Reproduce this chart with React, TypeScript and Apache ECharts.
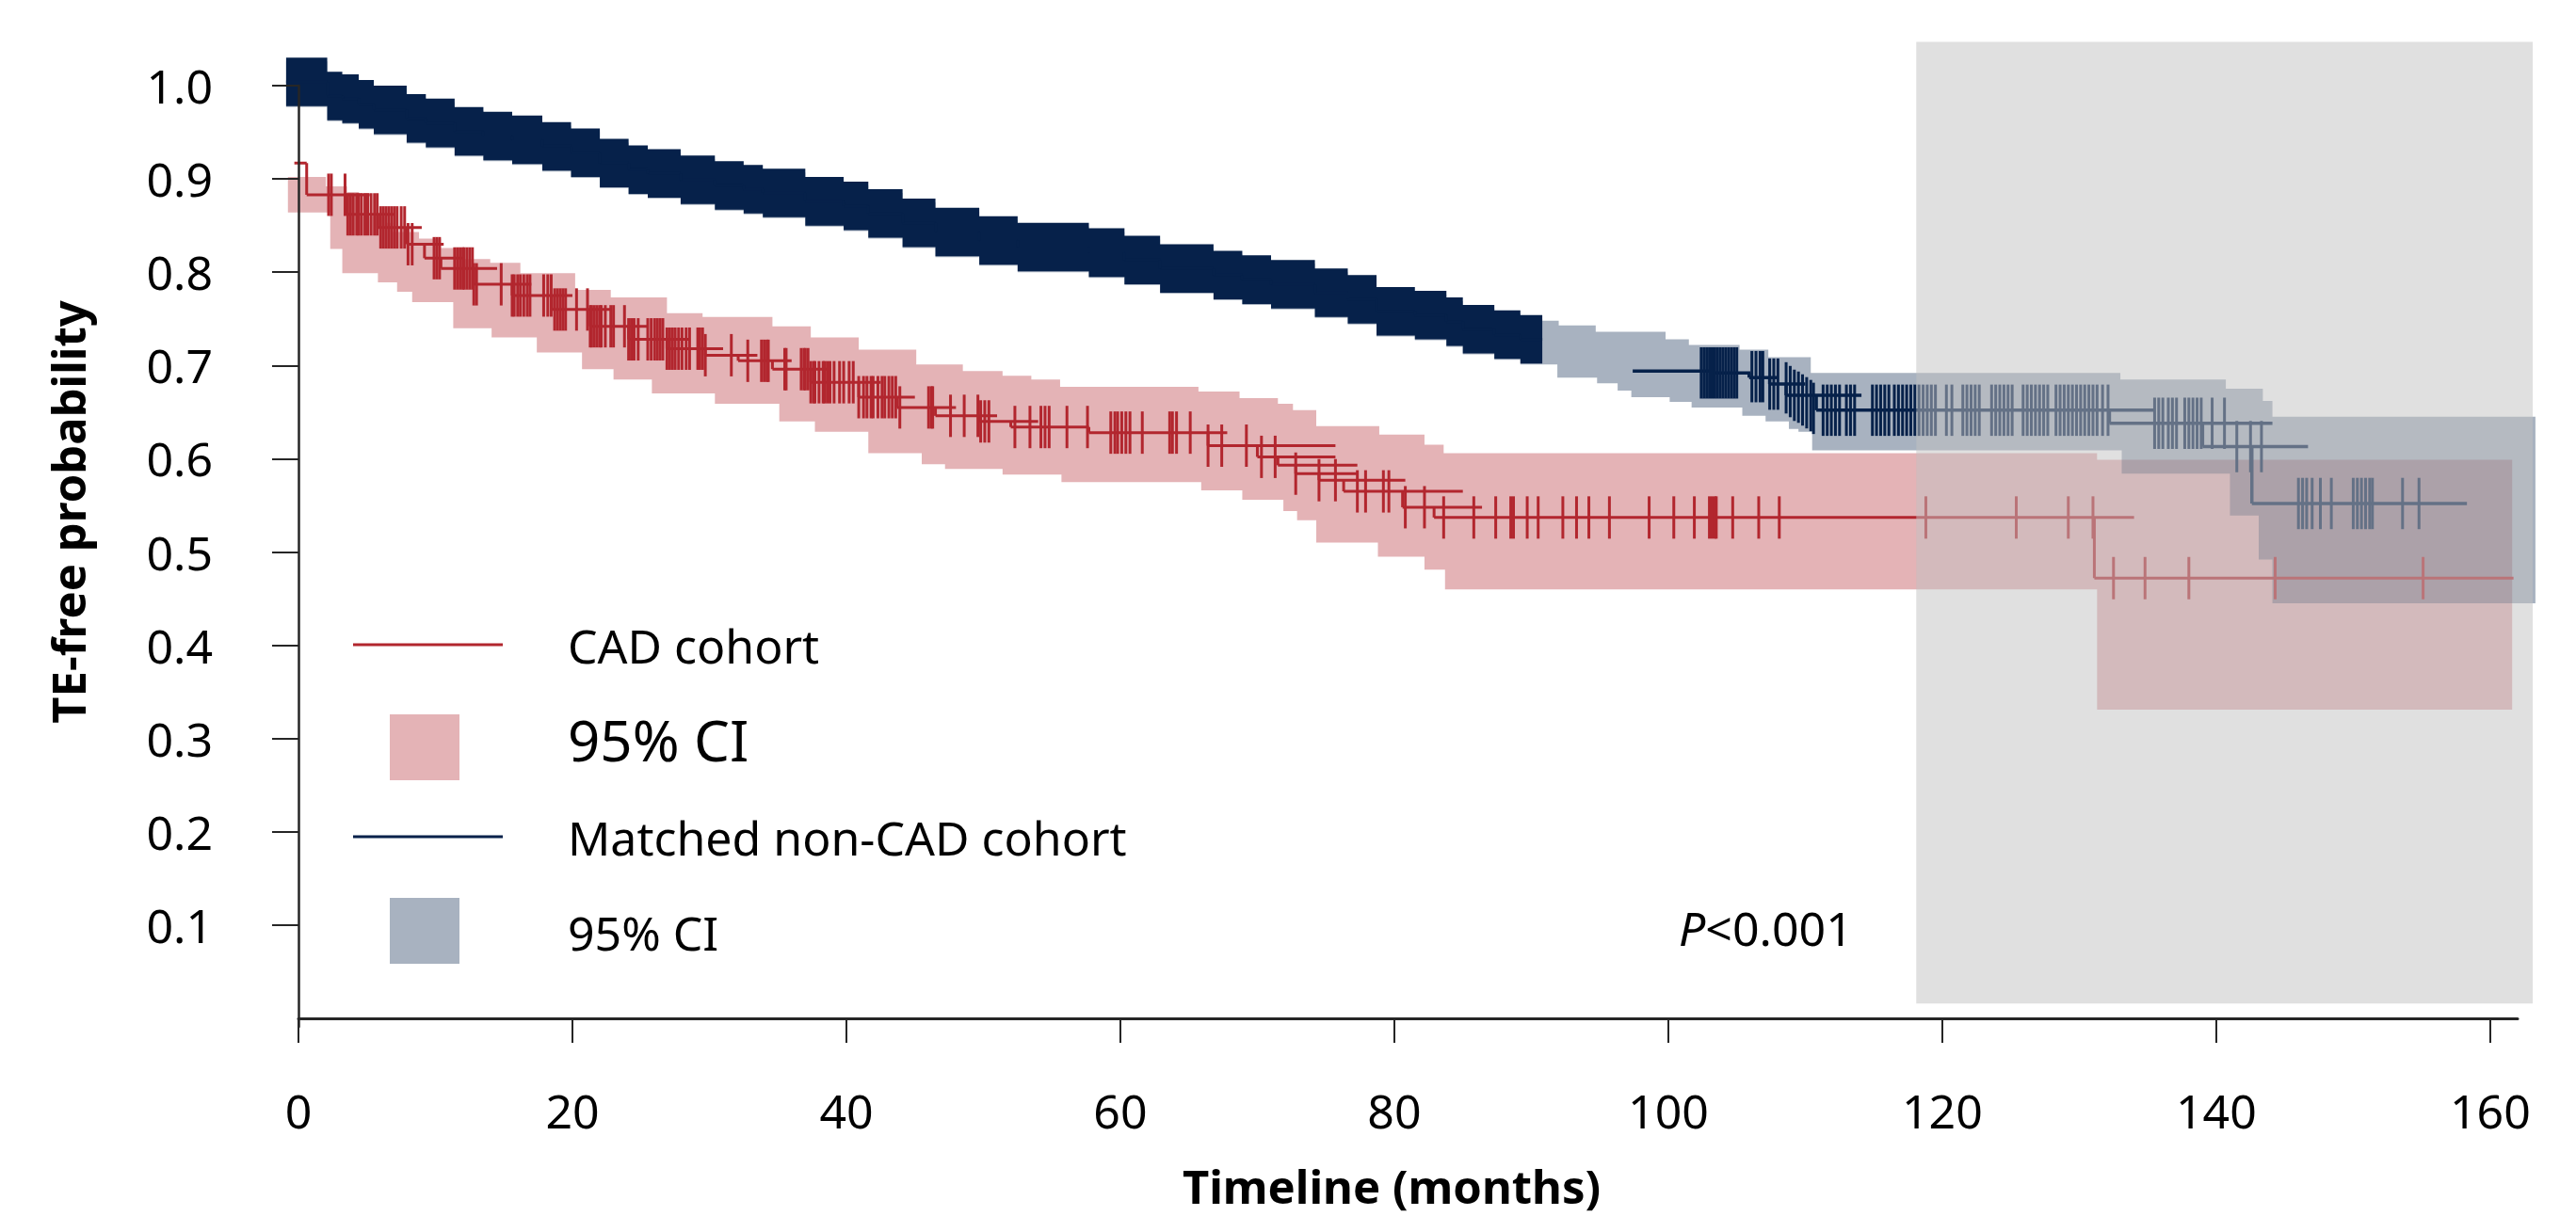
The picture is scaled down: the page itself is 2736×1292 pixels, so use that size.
import React, { useEffect, useRef } from "react";
import * as echarts from "echarts";

const FONT = '"Noto Sans", "Open Sans", sans-serif';
const RED = "#b2262e";
const NAVY = "#06214a";
const RED_CI = "rgba(178,38,46,0.35)";
const NAVY_CI = "rgba(6,33,74,0.35)";
const SHADE = "rgba(193,193,193,0.5)";

const xTicks = [0, 20, 40, 60, 80, 100, 120, 140, 160];
const yTicks = [0.1, 0.2, 0.3, 0.4, 0.5, 0.6, 0.7, 0.8, 0.9, 1.0];

// ---------- CAD cohort ----------
// [start month, end month, TE-free probability]
const cadSegments: number[][] = [
  [-0.3, 0.6, 0.917], [0.6, 5.2, 0.883], [3.5, 7.0, 0.862], [5.8, 9.0, 0.848],
  [7.9, 10.6, 0.83], [9.2, 12.0, 0.815], [10.4, 14.5, 0.804], [12.8, 17.0, 0.787],
  [15.6, 20.0, 0.775], [18.5, 22.8, 0.76], [21.3, 25.5, 0.742], [24.1, 28.5, 0.728],
  [26.9, 31.0, 0.718], [29.7, 33.5, 0.711], [32.1, 36.0, 0.705], [34.6, 38.8, 0.696],
  [37.4, 42.5, 0.682], [40.9, 45.0, 0.666], [43.7, 48.0, 0.655], [46.5, 51.0, 0.646],
  [49.7, 54.0, 0.64], [52.0, 57.7, 0.634], [57.7, 67.8, 0.628], [66.4, 75.7, 0.614],
  [70.0, 75.7, 0.602], [71.5, 77.3, 0.593], [72.8, 77.3, 0.584], [74.5, 80.8, 0.577],
  [76.3, 85.0, 0.565], [80.6, 86.4, 0.548], [82.9, 134.0, 0.537], [131.1, 161.7, 0.472],
];
const cadCensorTimes = [
  2.2, 2.4, 3.4, 3.6, 3.8, 4.0, 4.25, 4.4, 4.6, 4.85, 5.05, 5.3, 5.55, 5.75, 6.0, 6.2, 6.4, 6.6,
  6.8, 7.0, 7.2, 7.5, 7.75, 8.0, 8.3, 9.9, 10.1, 10.3, 11.4, 11.6, 11.8, 12.0, 12.1, 12.3, 12.5,
  12.7, 12.8, 13.0, 14.8, 15.6, 15.75, 16.0, 16.2, 16.45, 16.7, 16.9, 17.9, 18.2, 18.45, 18.7,
  18.9, 19.1, 19.3, 19.5, 20.3, 21.1, 21.3, 21.4, 21.6, 21.8, 22.0, 22.1, 22.4, 22.8, 23.0, 23.8,
  24.1, 24.3, 24.5, 24.8, 25.5, 25.75, 26.0, 26.2, 26.4, 26.6, 26.9, 27.1, 27.3, 27.5, 27.75,
  28.0, 28.3, 28.55, 29.15, 29.3, 29.5, 29.7, 31.6, 32.8, 33.8, 34.0, 34.2, 34.3, 35.5, 35.6,
  36.7, 36.9, 37.0, 37.2, 37.4, 37.6, 37.7, 38.0, 38.3, 38.4, 38.6, 38.8, 39.1, 39.5, 39.8, 40.2,
  40.5, 40.9, 41.25, 41.5, 41.8, 41.95, 42.3, 42.6, 42.8, 43.1, 43.35, 43.6, 43.9, 46.0, 46.2,
  46.3, 47.6, 48.6, 49.6, 49.8, 50.1, 50.4, 52.3, 53.4, 54.2, 54.5, 54.8, 56.1, 57.6, 59.3, 59.6,
  59.8, 60.1, 60.4, 60.7, 61.6, 63.6, 63.8, 64.1, 65.1, 66.4, 67.4, 69.2, 70.3, 71.3, 72.8, 74.5,
  75.7, 77.3, 77.9, 79.2, 79.6, 80.8, 82.2, 83.6, 85.8, 87.4, 88.5, 88.7, 89.7, 90.5, 92.3, 93.3,
  94.2, 95.7, 98.6, 100.4, 101.9, 103.0, 103.2, 103.4, 103.5, 104.7, 106.6, 108.1, 118.8, 125.4,
  129.2, 131.0, 132.5, 134.8, 138.0, 144.3, 155.1,
];
// [start month, bound]
const cadCiUpper: number[][] = [
  [-0.77, 0.902], [2.0, 0.892], [3.55, 0.886], [4.42, 0.86], [6.35, 0.853], [6.88, 0.843],
  [8.8, 0.836], [10.4, 0.826], [11.96, 0.814], [14.0, 0.81], [16.2, 0.799], [20.2, 0.781],
  [22.8, 0.773], [26.9, 0.756], [29.5, 0.752], [34.6, 0.742], [37.4, 0.73], [40.9, 0.717],
  [45.1, 0.701], [48.5, 0.694], [51.4, 0.689], [53.5, 0.685], [55.6, 0.677], [65.7, 0.672],
  [68.7, 0.665], [71.5, 0.659], [72.6, 0.652], [74.3, 0.635], [78.9, 0.626], [82.2, 0.615],
  [83.6, 0.606], [131.3, 0.599],
];
const cadCiLower: number[][] = [
  [-0.77, 0.864], [2.32, 0.825], [3.2, 0.799], [5.8, 0.789], [7.2, 0.779], [8.3, 0.768],
  [11.3, 0.74], [14.1, 0.73], [17.4, 0.714], [20.7, 0.696], [23.0, 0.685], [25.8, 0.67],
  [30.4, 0.659], [35.1, 0.64], [37.7, 0.629], [41.6, 0.606], [45.5, 0.594], [47.2, 0.589],
  [51.4, 0.583], [55.7, 0.575], [65.9, 0.566], [68.9, 0.556], [71.9, 0.544], [72.9, 0.534],
  [74.3, 0.51], [78.8, 0.495], [82.2, 0.481], [83.7, 0.46], [131.3, 0.331],
];
const cadCiEnd = 161.6;

// ---------- Matched non-CAD cohort ----------
// survival steps in the densely censored period [start month, probability]
const nonCadDenseCurve: number[][] = [
  [-0.9, 1.004], [2.1, 0.989], [3.2, 0.986], [4.4, 0.98], [5.5, 0.974], [7.9, 0.965],
  [9.3, 0.96], [11.4, 0.951], [13.5, 0.946], [15.6, 0.942], [17.8, 0.935], [19.9, 0.928],
  [22.0, 0.917], [24.1, 0.91], [25.5, 0.906], [27.9, 0.899], [30.4, 0.893], [32.5, 0.889],
  [33.9, 0.885], [37.0, 0.876], [39.8, 0.871], [41.6, 0.863], [44.1, 0.853], [46.5, 0.843],
  [49.7, 0.834], [52.5, 0.827], [57.7, 0.821], [60.3, 0.813], [62.9, 0.804], [66.8, 0.797],
  [68.9, 0.792], [71.0, 0.787], [74.2, 0.778], [76.6, 0.771], [78.7, 0.758], [81.5, 0.754],
  [83.8, 0.747], [85.0, 0.739], [87.3, 0.733], [89.2, 0.728],
];
const nonCadDenseEnd = 90.8;
const nonCadSegments: number[][] = [
  [97.4, 103.2, 0.694], [103.2, 106.0, 0.692], [105.9, 108.0, 0.687], [107.4, 110.0, 0.68],
  [108.6, 114.1, 0.668], [110.8, 135.5, 0.652], [132.2, 144.1, 0.638], [139.0, 146.7, 0.613],
  [142.6, 158.3, 0.552],
];
// [probability level, censoring months]
const nonCadCensor: [number, number[]][] = [
  [0.692, [102.4, 102.6, 102.8, 103.0, 103.2, 103.4, 103.6, 103.8, 104.0, 104.2, 104.4, 104.6, 104.8, 105.0]],
  [0.688, [106.1, 106.4, 106.7, 106.9]],
  [0.68, [107.4, 107.7, 108.0]],
  [0.676, [108.6]], [0.672, [108.9]], [0.668, [109.2]], [0.666, [109.5]], [0.663, [109.8]],
  [0.66, [110.1]], [0.657, [110.4]], [0.654, [110.6]],
  [0.652, [111.3, 111.6, 111.9, 112.2, 112.5, 113.0, 113.3, 113.6, 114.9, 115.2, 115.5, 115.8,
    116.1, 116.5, 116.8, 117.1, 117.4, 117.7, 118.0, 118.3, 118.6, 118.9, 119.2, 119.5, 120.3,
    120.7, 121.5, 121.8, 122.1, 122.4, 122.7, 123.6, 123.9, 124.2, 124.5, 124.8, 125.1, 125.9,
    126.2, 126.5, 126.8, 127.1, 127.4, 127.7, 128.3, 128.6, 128.9, 129.2, 129.5, 129.8, 130.1,
    130.4, 130.7, 131.0, 131.3, 131.7, 132.1]],
  [0.638, [135.5, 135.8, 136.1, 136.5, 136.8, 137.1, 137.7, 138.0, 138.3, 138.6, 138.9, 139.7, 140.6]],
  [0.613, [141.5, 142.5, 143.3]],
  [0.552, [146.0, 146.3, 146.6, 147.0, 147.6, 148.4, 150.0, 150.3, 150.6, 150.9, 151.2, 151.4, 153.6, 154.8]],
];
const nonCadCiUpper: number[][] = [
  [-0.9, 1.026], [2.1, 1.011], [3.2, 1.008], [4.4, 1.002], [5.5, 0.996], [7.9, 0.987],
  [9.3, 0.982], [11.4, 0.973], [13.5, 0.968], [15.6, 0.964], [17.8, 0.957], [19.9, 0.95],
  [22.0, 0.939], [24.1, 0.932], [25.5, 0.928], [27.9, 0.921], [30.4, 0.915], [32.5, 0.911],
  [33.9, 0.907], [37.0, 0.898], [39.8, 0.893], [41.6, 0.885], [44.1, 0.875], [46.5, 0.865],
  [49.7, 0.856], [52.5, 0.849], [57.7, 0.843], [60.3, 0.835], [62.9, 0.826], [66.8, 0.819],
  [68.9, 0.814], [71.0, 0.809], [74.2, 0.8], [76.6, 0.793], [78.7, 0.78], [81.5, 0.776],
  [83.8, 0.769], [85.0, 0.761], [87.3, 0.755], [89.2, 0.75], [90.8, 0.748], [92.0, 0.743],
  [94.7, 0.736], [99.8, 0.728], [101.5, 0.722], [105.2, 0.717], [107.3, 0.709], [110.4, 0.692],
  [133.0, 0.685], [140.7, 0.675], [143.4, 0.662], [144.1, 0.645],
];
const nonCadCiLower: number[][] = [
  [-0.9, 0.977], [2.1, 0.962], [3.2, 0.959], [4.4, 0.953], [5.5, 0.947], [7.9, 0.938],
  [9.3, 0.933], [11.4, 0.924], [13.5, 0.919], [15.6, 0.915], [17.8, 0.908], [19.9, 0.901],
  [22.0, 0.89], [24.1, 0.883], [25.5, 0.879], [27.9, 0.872], [30.4, 0.866], [32.5, 0.862],
  [33.9, 0.858], [37.0, 0.849], [39.8, 0.844], [41.6, 0.836], [44.1, 0.826], [46.5, 0.816],
  [49.7, 0.807], [52.5, 0.8], [57.7, 0.794], [60.3, 0.786], [62.9, 0.777], [66.8, 0.77],
  [68.9, 0.765], [71.0, 0.76], [74.2, 0.751], [76.6, 0.744], [78.7, 0.731], [81.5, 0.727],
  [83.8, 0.72], [85.0, 0.712], [87.3, 0.706], [89.2, 0.701], [91.9, 0.687], [94.8, 0.681],
  [96.3, 0.673], [97.3, 0.666], [100.1, 0.661], [101.7, 0.655], [105.4, 0.646], [107.1, 0.64],
  [108.8, 0.632], [109.5, 0.629], [110.5, 0.609], [133.1, 0.584], [141.0, 0.539], [143.1, 0.492],
  [144.1, 0.445],
];
const nonCadCiEnd = 163.3;

// shaded late follow-up zone [from month, to month, low prob, high prob]
const shadedZone = [118.1, 163.1, 0.016, 1.047];

const CAD_TICK_HALF = 0.0227;
const NONCAD_TICK_HALF = 0.0275;
const DENSE_HALF = 0.026;

function stepValueAt(segs: number[][], t: number) {
  let v = segs[0][2];
  for (const s of segs) if (s[0] <= t) v = s[2];
  return v;
}

function stepBandPoints(upper: number[][], lower: number[][], end: number, api: any) {
  const pts: number[][] = [];
  for (let i = 0; i < upper.length; i++) {
    const x1 = i + 1 < upper.length ? upper[i + 1][0] : end;
    pts.push(api.coord([upper[i][0], upper[i][1]]), api.coord([x1, upper[i][1]]));
  }
  for (let i = lower.length - 1; i >= 0; i--) {
    const x1 = i + 1 < lower.length ? lower[i + 1][0] : end;
    pts.push(api.coord([x1, lower[i][1]]), api.coord([lower[i][0], lower[i][1]]));
  }
  return pts;
}

function bandSeries(name: string, upper: number[][], lower: number[][], end: number, fill: string, z: number) {
  return {
    type: "custom", name, clip: false, silent: true, z,
    data: [[upper[0][0], upper[0][1]]],
    renderItem: (_p: any, api: any) => ({
      type: "polygon",
      shape: { points: stepBandPoints(upper, lower, end, api) },
      style: { fill },
    }),
  };
}

function segmentSeries(name: string, segs: number[][], color: string, width: number, z: number) {
  return {
    type: "custom", name, clip: false, silent: true, z,
    data: segs,
    renderItem: (params: any, api: any) => {
      const i = params.dataIndex;
      const s = segs[i];
      const a = api.coord([s[0], s[2]]);
      const b = api.coord([s[1], s[2]]);
      const children: any[] = [
        { type: "line", shape: { x1: a[0], y1: a[1], x2: b[0], y2: b[1] }, style: { stroke: color, lineWidth: width } },
      ];
      if (i > 0) {
        const p = api.coord([s[0], segs[i - 1][2]]);
        children.push({ type: "line", shape: { x1: p[0], y1: p[1], x2: a[0], y2: a[1] }, style: { stroke: color, lineWidth: width } });
      }
      return { type: "group", children };
    },
  };
}

function tickSeries(name: string, pts: number[][], half: number, color: string, width: number, z: number) {
  return {
    type: "custom", name, clip: false, silent: true, z,
    data: pts,
    renderItem: (_params: any, api: any) => {
      const p = api.coord([api.value(0), api.value(1)]);
      const h = api.size([0, half])[1];
      return {
        type: "line",
        shape: { x1: p[0], y1: p[1] - h, x2: p[0], y2: p[1] + h },
        style: { stroke: color, lineWidth: width },
      };
    },
  };
}

export default function App() {
  const ref = useRef<HTMLDivElement>(null);
  useEffect(() => {
    if (!ref.current) return;
    const chart = echarts.init(ref.current, undefined, { renderer: "svg" });

    const cadTicks = cadCensorTimes.map((t) => [t, stepValueAt(cadSegments, t)]);
    const nonCadTicks: number[][] = [];
    nonCadCensor.forEach(([v, ts]) => ts.forEach((t) => nonCadTicks.push([t, v])));
    const denseUpper = nonCadDenseCurve.map(([t, v]) => [t, v + DENSE_HALF]);
    const denseLower = nonCadDenseCurve.map(([t, v]) => [t, v - DENSE_HALF]);
    const denseSegs = nonCadDenseCurve.map(([t, v], i) => [t, i + 1 < nonCadDenseCurve.length ? nonCadDenseCurve[i + 1][0] : nonCadDenseEnd, v]);

    const option: any = {
      animation: false,
      backgroundColor: "#ffffff",
      grid: { left: 317, right: 62, top: 91, bottom: 201 },
      xAxis: {
        type: "value", min: 0, max: 162, z: 10,
        axisLine: { show: true, lineStyle: { color: "#262626", width: 3 } },
        axisTick: { show: true, length: 26, customValues: xTicks, lineStyle: { color: "#262626", width: 2 } },
        axisLabel: { customValues: xTicks, fontSize: 50, fontFamily: FONT, color: "#000", margin: 64 },
        splitLine: { show: false },
      },
      yAxis: {
        type: "value", min: -0.00908, max: 1.0, z: 10,
        axisLine: { show: true, lineStyle: { color: "#262626", width: 2.5 } },
        axisTick: { show: true, length: 28, customValues: yTicks, lineStyle: { color: "#262626", width: 2 } },
        axisLabel: {
          customValues: yTicks, fontSize: 50, fontFamily: FONT, color: "#000", margin: 91,
          formatter: (v: number) => v.toFixed(1),
        },
        splitLine: { show: false },
      },
      series: [
        bandSeries("CAD 95% CI", cadCiUpper, cadCiLower, cadCiEnd, RED_CI, 1),
        bandSeries("Matched non-CAD 95% CI", nonCadCiUpper, nonCadCiLower, nonCadCiEnd, NAVY_CI, 2),
        bandSeries("Matched non-CAD dense censoring", denseUpper, denseLower, nonCadDenseEnd, NAVY, 3),
        segmentSeries("Matched non-CAD cohort (early)", denseSegs, NAVY, 3, 4),
        segmentSeries("CAD cohort", cadSegments, RED, 3, 4),
        segmentSeries("Matched non-CAD cohort", nonCadSegments, NAVY, 3.5, 4),
        tickSeries("CAD censored", cadTicks, CAD_TICK_HALF, RED, 3, 5),
        tickSeries("Matched non-CAD censored", nonCadTicks, NONCAD_TICK_HALF, NAVY, 3, 5),
        {
          type: "custom", name: "shaded zone", clip: false, silent: true, z: 6,
          data: [shadedZone],
          renderItem: (_p: any, api: any) => {
            const a = api.coord([shadedZone[0], shadedZone[3]]);
            const b = api.coord([shadedZone[1], shadedZone[2]]);
            return { type: "rect", shape: { x: a[0], y: a[1], width: b[0] - a[0], height: b[1] - a[1] }, style: { fill: SHADE } };
          },
        },
      ],
      graphic: [
        { type: "text", x: 72, y: 544, rotation: Math.PI / 2, z: 100,
          style: { text: "TE-free probability", fontSize: 49, fontWeight: "bold", fontFamily: FONT, fill: "#000", align: "center", verticalAlign: "middle" } },
        { type: "text", x: 1478, y: 1260, z: 100,
          style: { text: "Timeline (months)", fontSize: 49, fontWeight: "bold", fontFamily: FONT, fill: "#000", align: "center", verticalAlign: "middle" } },
        { type: "line", z: 100, shape: { x1: 375, y1: 685, x2: 534, y2: 685 }, style: { stroke: RED, lineWidth: 3 } },
        { type: "text", x: 603, y: 686, z: 100,
          style: { text: "CAD cohort", fontSize: 50, fontFamily: FONT, fill: "#000", align: "left", verticalAlign: "middle" } },
        { type: "rect", z: 100, shape: { x: 414, y: 759, width: 74, height: 70 }, style: { fill: RED_CI } },
        { type: "text", x: 603, y: 786, z: 100,
          style: { text: "95% CI", fontSize: 60, fontFamily: FONT, fill: "#000", align: "left", verticalAlign: "middle" } },
        { type: "line", z: 100, shape: { x1: 375, y1: 889, x2: 534, y2: 889 }, style: { stroke: NAVY, lineWidth: 3 } },
        { type: "text", x: 603, y: 890, z: 100,
          style: { text: "Matched non-CAD cohort", fontSize: 50, fontFamily: FONT, fill: "#000", align: "left", verticalAlign: "middle" } },
        { type: "rect", z: 100, shape: { x: 414, y: 954, width: 74, height: 70 }, style: { fill: NAVY_CI } },
        { type: "text", x: 603, y: 991, z: 100,
          style: { text: "95% CI", fontSize: 50, fontFamily: FONT, fill: "#000", align: "left", verticalAlign: "middle" } },
        { type: "text", x: 1783, y: 986, z: 100,
          style: {
            text: "{i|P}<0.001", fontSize: 50, fontFamily: FONT, fill: "#000", align: "left", verticalAlign: "middle",
            rich: { i: { fontStyle: "italic", fontSize: 50, fontFamily: FONT, fill: "#000" } },
          } },
      ],
    };
    chart.setOption(option);
    return () => chart.dispose();
  }, []);
  return <div ref={ref} style={{ position: "absolute", left: 0, top: 0, width: 2736, height: 1292 }} />;
}
